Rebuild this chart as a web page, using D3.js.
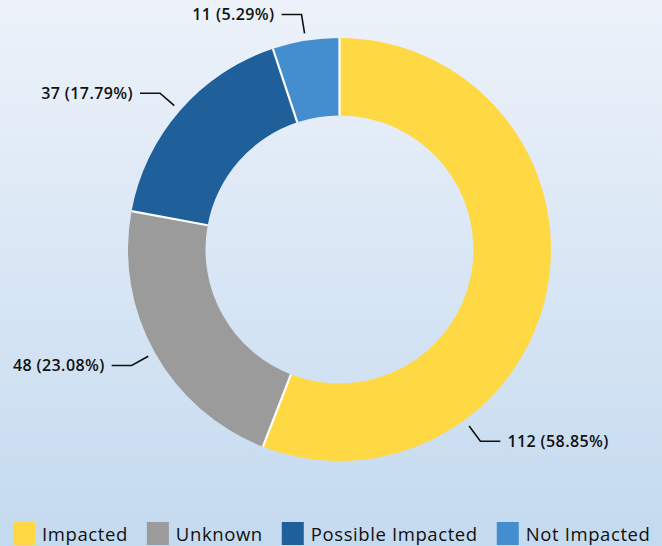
<!DOCTYPE html>
<html lang="en">
<head>
    <meta charset="UTF-8">
    <title>Impact Donut</title>
    <script src="https://d3js.org/d3.v7.min.js"></script>
    <style>
        body { margin: 0; }
        svg { display: block; }
        .sep { stroke: #fff; stroke-width: 2.2px; }
        .leader { fill: none; stroke: #111; stroke-width: 1.6px; }
        .label { font-family: "Open Sans", "Noto Sans", sans-serif; font-size: 16px; font-weight: 600; letter-spacing: 0.4px; fill: #111; }
        .legend text { font-family: "Open Sans", "Noto Sans", sans-serif; font-size: 18.5px; font-weight: 500; letter-spacing: 0.6px; fill: #111; }
    </style>
</head>
<body>
    <svg id="chart"></svg>

    <script>
        // Chart data
        const categories = ["Impacted", "Unknown", "Possible Impacted", "Not Impacted"];
        const counts = [112, 48, 37, 11];
        const pctLabels = ["58.85%", "23.08%", "17.79%", "5.29%"];
        // share of the ring each slice takes, as drawn in the picture
        const arcShares = [55.9, 22.0, 17.0, 5.1];
        const colors = ["#fed944", "#9b9b9b", "#20609a", "#448ed0"];

        const width = 662, height = 546;
        const cx = 339.5, cy = 249.5;
        const outerR = 211.5, innerR = 134;

        const svg = d3.select("#chart")
            .attr("width", width)
            .attr("height", height);

        // background gradient
        const grad = svg.append("defs").append("linearGradient")
            .attr("id", "bg").attr("x1", 0).attr("y1", 0).attr("x2", 0).attr("y2", 1);
        grad.append("stop").attr("offset", "0%").attr("stop-color", "#edf2fa");
        grad.append("stop").attr("offset", "100%").attr("stop-color", "#c4daef");
        svg.append("rect").attr("width", width).attr("height", height).attr("fill", "url(#bg)");

        const color = d3.scaleOrdinal().domain(categories).range(colors);

        const pie = d3.pie().sort(null).value(i => arcShares[i]);
        const arcs = pie(d3.range(categories.length));

        const arc = d3.arc().innerRadius(innerR).outerRadius(outerR);

        const g = svg.append("g").attr("transform", `translate(${cx},${cy})`);

        g.selectAll(".slice")
            .data(arcs)
            .enter()
            .append("path")
            .attr("class", "slice")
            .attr("d", arc)
            .attr("fill", d => color(categories[d.data]));

        // white separators between slices only (no outline on the ring edges)
        g.selectAll(".sep")
            .data(arcs)
            .enter()
            .append("line")
            .attr("class", "sep")
            .attr("x1", d => innerR * Math.sin(d.startAngle))
            .attr("y1", d => -innerR * Math.cos(d.startAngle))
            .attr("x2", d => outerR * Math.sin(d.startAngle))
            .attr("y2", d => -outerR * Math.cos(d.startAngle));

        // leader lines + labels
        const angleOverride = { "Impacted": 143.7 * Math.PI / 180 };
        const startR = 219, elbowR = 238, runLen = 20, gap = 7;

        arcs.forEach(d => {
            const cat = categories[d.data];
            const a = angleOverride[cat] !== undefined ? angleOverride[cat] : (d.startAngle + d.endAngle) / 2;
            const p0 = [startR * Math.sin(a), -startR * Math.cos(a)];
            const p1 = [elbowR * Math.sin(a), -elbowR * Math.cos(a)];
            const left = Math.sin(a) < 0;
            const p2 = [p1[0] + (left ? -runLen : runLen), p1[1]];

            g.append("path")
                .attr("class", "leader")
                .attr("d", d3.line()([p0, p1, p2]));

            g.append("text")
                .attr("class", "label")
                .attr("x", p2[0] + (left ? -gap : gap))
                .attr("y", p2[1])
                .attr("dy", "0.35em")
                .attr("text-anchor", left ? "end" : "start")
                .text(`${counts[d.data]} (${pctLabels[d.data]})`);
        });

        // legend
        const legend = svg.append("g").attr("class", "legend");
        let x = 13;
        categories.forEach(cat => {
            legend.append("rect")
                .attr("x", x).attr("y", 522)
                .attr("width", 22).attr("height", 23)
                .attr("fill", color(cat));
            const t = legend.append("text")
                .attr("x", x + 29).attr("y", 535)
                .attr("dy", "0.35em")
                .text(cat);
            x += 29 + t.node().getComputedTextLength() + 19;
        });
    </script>
</body>
</html>
